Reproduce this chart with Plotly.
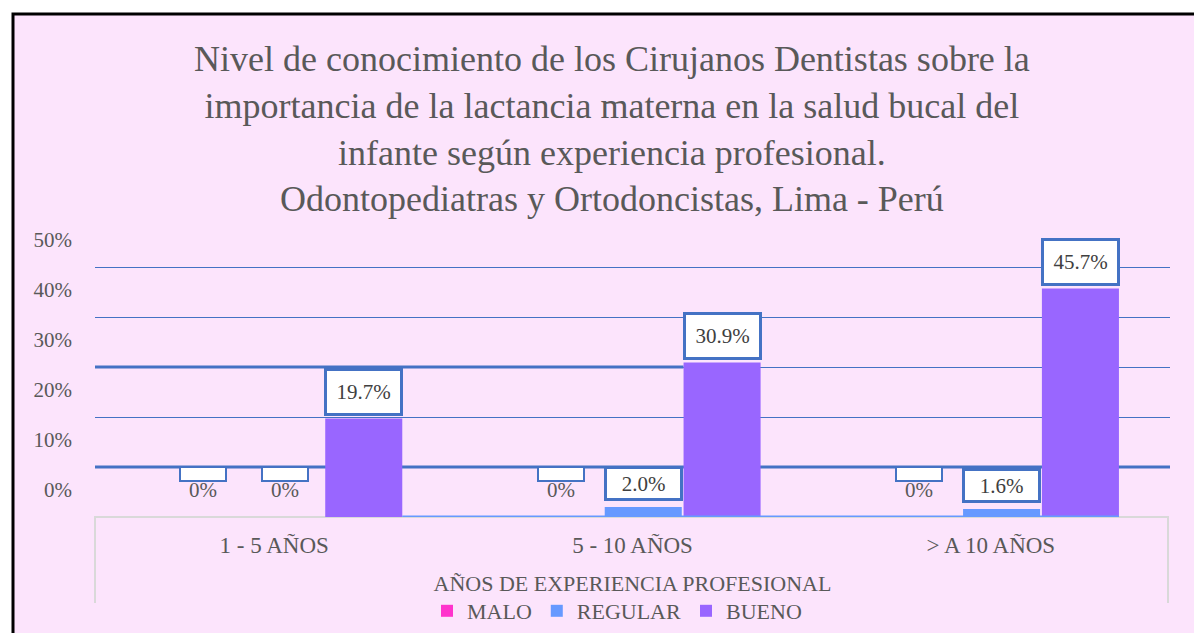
import plotly.graph_objects as go

# ---- data ----
categories = ["1 - 5 AÑOS", "5 - 10 AÑOS", "> A 10 AÑOS"]
series_names = ["MALO", "REGULAR", "BUENO"]
malo = [0.0, 0.0, 0.0]
regular = [0.0, 2.0, 1.6]
bueno = [19.7, 30.9, 45.7]
y_ticks = [0, 10, 20, 30, 40, 50]
y_tick_labels = ["0%", "10%", "20%", "30%", "40%", "50%"]
title_lines = [
    "Nivel de conocimiento de los Cirujanos Dentistas sobre la",
    "importancia de la lactancia materna en la salud bucal del",
    "infante según experiencia profesional.",
    "Odontopediatras y Ortodoncistas, Lima - Perú",
]
x_title = "AÑOS DE EXPERIENCIA PROFESIONAL"

# ---- style ----
D = 8  # default page body margin offset
W, H = 1202 - 2 * D, 641 - 2 * D
ML = 95 - D
MT = 218 - D
PLOT_RIGHT = 1170 - D
PLOT_BOTTOM = 517 - D
MR = W - PLOT_RIGHT
MB = H - PLOT_BOTTOM
PW, PH = W - ML - MR, H - MT - MB
BG = "#fce4fc"
TXT = "#595959"
GRID = "#4472c4"
FONT = "Liberation Serif"
colors = ["#ff33cc", "#6699ff", "#9966ff"]
offsets = [-0.2, 0.03, 0.25]
bar_w = 0.215
Y_MAX = 59.8

def px_x(px_ref):
    return (px_ref - D - ML) / PW

def px_y(py_ref):
    return (PLOT_BOTTOM - (py_ref - D)) / PH

fig = go.Figure()
all_series = [malo, regular, bueno]
annotations = []
for name, vals, col, off in zip(series_names, all_series, colors, offsets):
    xs = [i + off for i in range(len(categories))]
    fig.add_trace(go.Bar(
        name=name, x=xs, y=vals, width=bar_w,
        marker=dict(color=col, line=dict(width=0)),
        hoverinfo="skip",
    ))
    for x, v in zip(xs, vals):
        if v == 0:
            annotations.append(dict(
                x=x, y=v, xref="x", yref="y", text=" ", showarrow=False,
                width=44, height=12, bgcolor="white", bordercolor=GRID,
                borderwidth=2, yanchor="middle", yshift=43, borderpad=0,
            ))
            annotations.append(dict(
                x=x, y=v, xref="x", yref="y", text="0%", showarrow=False,
                font=dict(family=FONT, size=21, color=TXT),
                yanchor="middle", yshift=27,
            ))
        else:
            annotations.append(dict(
                x=x, y=v, xref="x", yref="y", text=f"{v:.1f}%", showarrow=False,
                font=dict(family=FONT, size=21, color="#404040"),
                bgcolor="white", bordercolor=GRID, borderwidth=3,
                width=71, height=40 if name == "BUENO" else 27,
                yanchor="bottom", yshift=3 if name == "BUENO" else 6,
            ))

# chart title as a multi-line annotation
annotations.append(dict(
    x=px_x(612), y=px_y(37), xref="paper", yref="paper",
    text="<br>".join(title_lines), showarrow=False,
    font=dict(family=FONT, size=36, color=TXT),
    xanchor="center", yanchor="top", align="center",
))

# left edge of the middle group's BUENO bar (where the thick 30% line stops)
bueno_mid_left = 1 + offsets[2] - bar_w / 2

shapes = [
    # outer chart frame
    dict(type="rect", xref="paper", yref="paper",
         x0=px_x(13), x1=px_x(1202 + 20),
         y0=px_y(641 + 20), y1=px_y(14),
         line=dict(color="black", width=3), fillcolor=BG, layer="below"),
    # category axis box
    dict(type="path", xref="paper", yref="paper",
         path=f"M 0 {px_y(603)} L 0 0 L {px_x(1168)} 0 L {px_x(1168)} {px_y(603)}",
         line=dict(color="#d9d9d9", width=2), layer="below"),
    # heavier gridlines seen in the reference
    dict(type="line", xref="paper", yref="y", x0=0, x1=1,
         y0=y_ticks[1], y1=y_ticks[1], line=dict(color=GRID, width=3), layer="below"),
    dict(type="line", xref="x", yref="y", x0=-0.5, x1=bueno_mid_left,
         y0=y_ticks[3], y1=y_ticks[3], line=dict(color=GRID, width=3), layer="below"),
    # light blue baseline under the bars
    dict(type="line", xref="x", yref="y", x0=bueno_mid_left - 1 + bar_w, x1=2 + offsets[2] + bar_w / 2,
         y0=0, y1=0, line=dict(color="#6699ff", width=3), layer="above"),
]

fig.update_layout(
    width=W, height=H,
    margin=dict(l=ML, r=MR, t=MT, b=MB, autoexpand=False),
    paper_bgcolor="white",
    plot_bgcolor="rgba(0,0,0,0)",
    font=dict(family=FONT, color=TXT, size=21),
    barmode="overlay",
    showlegend=True,
    legend=dict(
        orientation="h", x=px_x(617), xanchor="center",
        y=px_y(611), yanchor="middle",
        font=dict(family=FONT, size=22, color=TXT),
        bgcolor="rgba(0,0,0,0)", itemwidth=30, tracegroupgap=0,
    ),
    shapes=shapes,
    annotations=annotations,
)
fig.update_xaxes(
    range=[-0.5, len(categories) - 0.5],
    tickmode="array", tickvals=list(range(len(categories))), ticktext=categories,
    tickfont=dict(family=FONT, size=23, color=TXT),
    showgrid=False, zeroline=False, showline=False, ticks="",
    ticklabelstandoff=12, automargin=False,
    title=dict(text=x_title, font=dict(family=FONT, size=22, color=TXT), standoff=18),
    fixedrange=True,
)
fig.update_yaxes(
    range=[0, Y_MAX],
    tickmode="array", tickvals=y_ticks, ticktext=y_tick_labels,
    tickfont=dict(family=FONT, size=21, color=TXT),
    showgrid=True, gridcolor=GRID, gridwidth=1,
    zeroline=False, showline=False, ticks="",
    ticklabelshift=-27, ticklabelstandoff=22, automargin=False,
    fixedrange=True,
)

fig.write_html("out.html")
